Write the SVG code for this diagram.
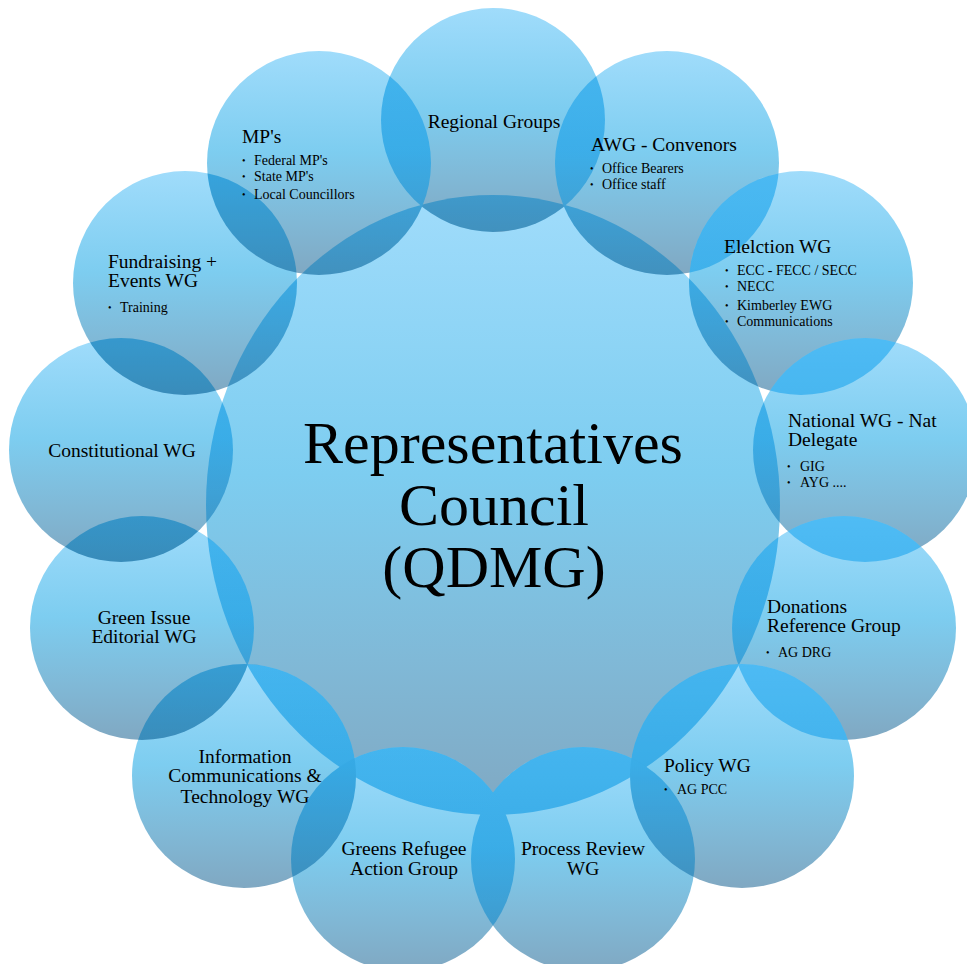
<svg xmlns="http://www.w3.org/2000/svg" width="967" height="964" viewBox="0 0 967 964">
<style>
.c{fill:url(#gf)}
.lens{fill:url(#gl)}
#overlaps{mix-blend-mode:multiply}
text{font-family:"Liberation Serif","Times New Roman",serif;fill:#000}
.h{font-size:19.5px}
.m{text-anchor:middle}
.b{font-size:14px}
.d{font-size:10px}
.big{font-size:60px;text-anchor:middle}
</style>
<defs>
<linearGradient id="gf" x1="0" y1="0" x2="0" y2="1">
<stop offset="0" stop-color="#a0dcfb"/>
<stop offset="0.45" stop-color="#7dcdf0"/>
<stop offset="0.75" stop-color="#80b9d7"/>
<stop offset="1" stop-color="#80a8c2"/>
</linearGradient>
<linearGradient id="gl" x1="0" y1="0" x2="0" y2="1">
<stop offset="0" stop-color="#6cd2f3"/>
<stop offset="1" stop-color="#82dcfa"/>
</linearGradient>
<clipPath id="k-central"><ellipse cx="493" cy="505" rx="287" ry="310"/></clipPath>
<clipPath id="k-regional"><circle cx="493" cy="120" r="112"/></clipPath>
<clipPath id="k-awg"><circle cx="667" cy="163" r="112"/></clipPath>
<clipPath id="k-election"><circle cx="801" cy="283" r="112"/></clipPath>
<clipPath id="k-national"><circle cx="865" cy="450" r="112"/></clipPath>
<clipPath id="k-donations"><circle cx="844" cy="628" r="112"/></clipPath>
<clipPath id="k-policy"><circle cx="742" cy="776" r="112"/></clipPath>
<clipPath id="k-process"><circle cx="583" cy="859" r="112"/></clipPath>
<clipPath id="k-refugee"><circle cx="403" cy="859" r="112"/></clipPath>
<clipPath id="k-info"><circle cx="244" cy="776" r="112"/></clipPath>
<clipPath id="k-green"><circle cx="142" cy="628" r="112"/></clipPath>
<clipPath id="k-constitutional"><circle cx="121" cy="450" r="112"/></clipPath>
<clipPath id="k-fundraising"><circle cx="185" cy="283" r="112"/></clipPath>
<clipPath id="k-mps"><circle cx="319" cy="163" r="112"/></clipPath>
</defs>
<rect width="967" height="964" fill="#ffffff"/>
<g id="connectors"/>
<g id="nodes">
<g id="node-central">
<ellipse class="c" cx="493" cy="505" rx="287" ry="310"/>
<text class="big" x="493" y="463">Representatives</text>
<text class="big" x="494" y="525">Council</text>
<text class="big" x="494" y="587">(QDMG)</text>
</g>
<g id="node-regional">
<circle class="c" cx="493" cy="120" r="112"/>
<text class="h m" x="494" y="128">Regional Groups</text>
</g>
<g id="node-awg">
<circle class="c" cx="667" cy="163" r="112"/>
<text class="h" x="591" y="151">AWG - Convenors</text>
<text class="d" x="590" y="172">•</text><text class="b" x="602" y="173">Office Bearers</text>
<text class="d" x="590" y="188">•</text><text class="b" x="602" y="189">Office staff</text>
</g>
<g id="node-election">
<circle class="c" cx="801" cy="283" r="112"/>
<text class="h" x="724" y="253">Elelction WG</text>
<text class="d" x="725" y="274">•</text><text class="b" x="737" y="275">ECC - FECC / SECC</text>
<text class="d" x="725" y="290">•</text><text class="b" x="737" y="291">NECC</text>
<text class="d" x="725" y="309">•</text><text class="b" x="737" y="310">Kimberley EWG</text>
<text class="d" x="725" y="325">•</text><text class="b" x="737" y="326">Communications</text>
</g>
<g id="node-national">
<circle class="c" cx="865" cy="450" r="112"/>
<text class="h" x="788" y="427">National WG - Nat</text>
<text class="h" x="788" y="446">Delegate</text>
<text class="d" x="787" y="470">•</text><text class="b" x="800" y="471">GIG</text>
<text class="d" x="787" y="486">•</text><text class="b" x="800" y="487">AYG ....</text>
</g>
<g id="node-donations">
<circle class="c" cx="844" cy="628" r="112"/>
<text class="h" x="767" y="613">Donations</text>
<text class="h" x="767" y="632">Reference Group</text>
<text class="d" x="766" y="656">•</text><text class="b" x="778" y="657">AG DRG</text>
</g>
<g id="node-process">
<circle class="c" cx="583" cy="859" r="112"/>
<text class="h m" x="583" y="855">Process Review</text>
<text class="h m" x="583" y="875">WG</text>
</g>
<g id="node-policy">
<circle class="c" cx="742" cy="776" r="112"/>
<text class="h" x="664" y="772">Policy WG</text>
<text class="d" x="664" y="793">•</text><text class="b" x="677" y="794">AG PCC</text>
</g>
<g id="node-refugee">
<circle class="c" cx="403" cy="859" r="112"/>
<text class="h m" x="404" y="855">Greens Refugee</text>
<text class="h m" x="404" y="875">Action Group</text>
</g>
<g id="node-info">
<circle class="c" cx="244" cy="776" r="112"/>
<text class="h m" x="245" y="763">Information</text>
<text class="h m" x="245" y="782">Communications &amp;</text>
<text class="h m" x="245" y="803">Technology WG</text>
</g>
<g id="node-green">
<circle class="c" cx="142" cy="628" r="112"/>
<text class="h m" x="144" y="624">Green Issue</text>
<text class="h m" x="144" y="643">Editorial WG</text>
</g>
<g id="node-constitutional">
<circle class="c" cx="121" cy="450" r="112"/>
<text class="h m" x="122" y="457">Constitutional WG</text>
</g>
<g id="node-fundraising">
<circle class="c" cx="185" cy="283" r="112"/>
<text class="h" x="108" y="268">Fundraising +</text>
<text class="h" x="108" y="287">Events WG</text>
<text class="d" x="108" y="311">•</text><text class="b" x="120" y="312">Training</text>
</g>
<g id="node-mps">
<circle class="c" cx="319" cy="163" r="112"/>
<text class="h" x="242" y="143">MP's</text>
<text class="d" x="242" y="164">•</text><text class="b" x="254" y="165">Federal MP's</text>
<text class="d" x="242" y="180">•</text><text class="b" x="254" y="181">State MP's</text>
<text class="d" x="242" y="198">•</text><text class="b" x="254" y="199">Local Councillors</text>
</g>
</g>
<g id="overlaps">
<circle class="lens" cx="493" cy="120" r="112" clip-path="url(#k-central)"/>
<circle class="lens" cx="667" cy="163" r="112" clip-path="url(#k-central)"/>
<circle class="lens" cx="801" cy="283" r="112" clip-path="url(#k-central)"/>
<circle class="lens" cx="865" cy="450" r="112" clip-path="url(#k-central)"/>
<circle class="lens" cx="844" cy="628" r="112" clip-path="url(#k-central)"/>
<circle class="lens" cx="742" cy="776" r="112" clip-path="url(#k-central)"/>
<circle class="lens" cx="583" cy="859" r="112" clip-path="url(#k-central)"/>
<circle class="lens" cx="403" cy="859" r="112" clip-path="url(#k-central)"/>
<circle class="lens" cx="244" cy="776" r="112" clip-path="url(#k-central)"/>
<circle class="lens" cx="142" cy="628" r="112" clip-path="url(#k-central)"/>
<circle class="lens" cx="121" cy="450" r="112" clip-path="url(#k-central)"/>
<circle class="lens" cx="185" cy="283" r="112" clip-path="url(#k-central)"/>
<circle class="lens" cx="319" cy="163" r="112" clip-path="url(#k-central)"/>
<circle class="lens" cx="493" cy="120" r="112" clip-path="url(#k-awg)"/>
<circle class="lens" cx="667" cy="163" r="112" clip-path="url(#k-election)"/>
<circle class="lens" cx="801" cy="283" r="112" clip-path="url(#k-national)"/>
<circle class="lens" cx="865" cy="450" r="112" clip-path="url(#k-donations)"/>
<circle class="lens" cx="844" cy="628" r="112" clip-path="url(#k-policy)"/>
<circle class="lens" cx="742" cy="776" r="112" clip-path="url(#k-process)"/>
<circle class="lens" cx="583" cy="859" r="112" clip-path="url(#k-refugee)"/>
<circle class="lens" cx="403" cy="859" r="112" clip-path="url(#k-info)"/>
<circle class="lens" cx="244" cy="776" r="112" clip-path="url(#k-green)"/>
<circle class="lens" cx="142" cy="628" r="112" clip-path="url(#k-constitutional)"/>
<circle class="lens" cx="121" cy="450" r="112" clip-path="url(#k-fundraising)"/>
<circle class="lens" cx="185" cy="283" r="112" clip-path="url(#k-mps)"/>
<circle class="lens" cx="319" cy="163" r="112" clip-path="url(#k-regional)"/>
</g>
</svg>
